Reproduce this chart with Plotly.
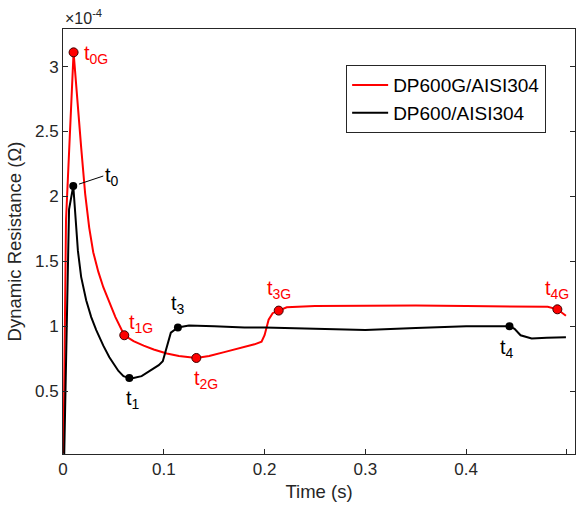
import plotly.graph_objects as go

# ---- data (resistance in units of 1e-4 ohm) ----
galv_time = [0.0005, 0.0015, 0.003, 0.0105, 0.014, 0.018, 0.022, 0.026, 0.030, 0.035,
             0.040, 0.046, 0.052, 0.0608, 0.070, 0.080, 0.090, 0.103, 0.115, 0.1323,
             0.145, 0.160, 0.175, 0.190, 0.197, 0.200, 0.204, 0.208, 0.214, 0.222,
             0.250, 0.300, 0.350, 0.400, 0.450, 0.481, 0.4905, 0.499]
galv_res = [0.02, 0.70, 1.82, 3.11, 2.75, 2.38, 2.02, 1.76, 1.57, 1.42,
            1.30, 1.18, 1.07, 0.93, 0.885, 0.85, 0.82, 0.79, 0.77, 0.755,
            0.77, 0.80, 0.83, 0.86, 0.88, 0.93, 1.05, 1.10, 1.12, 1.145,
            1.155, 1.16, 1.16, 1.155, 1.15, 1.15, 1.13, 1.08]

bare_time = [0.0012, 0.0022, 0.004, 0.006, 0.0102, 0.0125, 0.0148, 0.018, 0.023, 0.028,
             0.033, 0.040, 0.046, 0.055, 0.060, 0.0658, 0.070, 0.078, 0.086, 0.095,
             0.099, 0.103, 0.107, 0.114, 0.125, 0.150, 0.180, 0.200, 0.250, 0.300,
             0.350, 0.400, 0.443, 0.448, 0.454, 0.465, 0.480, 0.499]
bare_res = [0.0, 0.45, 1.20, 1.90, 2.08, 1.84, 1.58, 1.38, 1.20, 1.07,
            0.97, 0.85, 0.76, 0.655, 0.615, 0.60, 0.60, 0.615, 0.655, 0.70,
            0.73, 0.84, 0.95, 0.99, 1.005, 1.00, 0.99, 0.99, 0.98, 0.97,
            0.985, 1.00, 1.00, 0.98, 0.93, 0.905, 0.91, 0.915]

galv_mark_time = [0.0105, 0.0608, 0.1323, 0.214, 0.4905]
galv_mark_res = [3.11, 0.93, 0.755, 1.12, 1.13]
galv_mark_labels = ["t<sub>0G</sub>", "t<sub>1G</sub>", "t<sub>2G</sub>", "t<sub>3G</sub>", "t<sub>4G</sub>"]

bare_mark_time = [0.0102, 0.0658, 0.114, 0.443]
bare_mark_res = [2.08, 0.60, 0.99, 1.00]
bare_mark_labels = ["t<sub>0</sub>", "t<sub>1</sub>", "t<sub>3</sub>", "t<sub>4</sub>"]

x_ticks = [0, 0.1, 0.2, 0.3, 0.4, 0.5]
x_tick_text = ["0", "0.1", "0.2", "0.3", "0.4", "0.5"]
y_ticks = [0.5, 1, 1.5, 2, 2.5, 3]
y_tick_text = ["0.5", "1", "1.5", "2", "2.5", "3"]
top_ticks = [0.030, 0.0698, 0.129, 0.172, 0.2285, 0.273, 0.329, 0.375, 0.4275, 0.4776]

series_names = ["DP600G/AISI304", "DP600/AISI304"]

# ---- styles ----
RED = "#ff0000"
BLK = "#000000"
AX = "#262626"
FONT = "Liberation Sans, Arial, sans-serif"
LABEL_SIZE = 20

fig = go.Figure()
fig.add_trace(go.Scatter(x=galv_time, y=galv_res, mode="lines", name=series_names[0],
                         line=dict(color=RED, width=2)))
fig.add_trace(go.Scatter(x=bare_time, y=bare_res, mode="lines", name=series_names[1],
                         line=dict(color=BLK, width=2)))
fig.add_trace(go.Scatter(x=galv_mark_time, y=galv_mark_res, mode="markers", showlegend=False,
                         marker=dict(color=RED, size=9, line=dict(color="#400000", width=1))))
fig.add_trace(go.Scatter(x=bare_mark_time, y=bare_mark_res, mode="markers", showlegend=False,
                         marker=dict(color=BLK, size=8)))

# label offsets (pixels): (xshift, yshift, xanchor)
galv_offsets = [(8, -2, "left"), (3, 12, "left"), (10, -22, "center"), (0, 21, "center"), (0, 20, "center")]
bare_offsets = [(None, None, None), (4, -21, "center"), (0, 23, "center"), (-2, -22, "center")]

for t, r, lab, (dx, dy, xa) in zip(galv_mark_time, galv_mark_res, galv_mark_labels, galv_offsets):
    fig.add_annotation(x=t, y=r, text=lab, showarrow=False, xshift=dx, yshift=dy, xanchor=xa,
                       yanchor="middle", font=dict(family=FONT, size=LABEL_SIZE, color=RED))

for i, (t, r, lab) in enumerate(zip(bare_mark_time, bare_mark_res, bare_mark_labels)):
    if i == 0:
        fig.add_annotation(x=t, y=r, text=lab, showarrow=True, ax=30, ay=-10, arrowhead=0,
                           arrowwidth=1, arrowcolor=BLK, standoff=6, xanchor="left",
                           font=dict(family=FONT, size=LABEL_SIZE, color=BLK))
    else:
        dx, dy, xa = bare_offsets[i]
        fig.add_annotation(x=t, y=r, text=lab, showarrow=False, xshift=dx, yshift=dy, xanchor=xa,
                           yanchor="middle", font=dict(family=FONT, size=LABEL_SIZE, color=BLK))

# exponent label
fig.add_annotation(xref="paper", yref="paper", x=0.0, y=1.0, yshift=0, xanchor="left",
                   yanchor="bottom", text="×10<sup>-4</sup>", showarrow=False,
                   font=dict(family=FONT, size=16, color=AX))

fig.update_layout(
    width=578, height=512,
    margin=dict(l=63, r=3, t=29, b=58),
    paper_bgcolor="white", plot_bgcolor="white",
    font=dict(family=FONT, color=AX),
    showlegend=True,
    legend=dict(x=0.553, y=0.915, xanchor="left", yanchor="top",
                bgcolor="white", bordercolor=AX, borderwidth=1,
                font=dict(family=FONT, size=19, color=BLK), itemwidth=36),
    xaxis=dict(range=[0, 0.508], tickvals=x_ticks, ticktext=x_tick_text, ticks="inside",
               ticklen=5, tickcolor=AX, showline=True, linecolor=AX, linewidth=1,
               mirror=True, showgrid=False, zeroline=False, automargin=False,
               tickfont=dict(size=17, color=AX),
               title=dict(text="Time (s)", font=dict(size=18.5, color=AX), standoff=6)),
    xaxis2=dict(range=[0, 0.508], overlaying="x", side="top", anchor="y", tickvals=top_ticks,
                ticks="inside", ticklen=5, tickcolor=AX, showticklabels=False,
                showline=False, showgrid=False, zeroline=False),
    yaxis=dict(range=[0.015, 3.29], tickvals=y_ticks, ticktext=y_tick_text, ticks="inside",
               ticklen=5, tickcolor=AX, showline=True, linecolor=AX, linewidth=1,
               mirror="ticks", showgrid=False, zeroline=False, automargin=False,
               tickfont=dict(size=17, color=AX),
               title=dict(text="Dynamic Resistance (Ω)", font=dict(size=18.5, color=AX), standoff=8)),
)

fig.write_html("out.html", config={"displayModeBar": False},
               post_script="document.body.style.margin='0';document.body.style.padding='0';")
